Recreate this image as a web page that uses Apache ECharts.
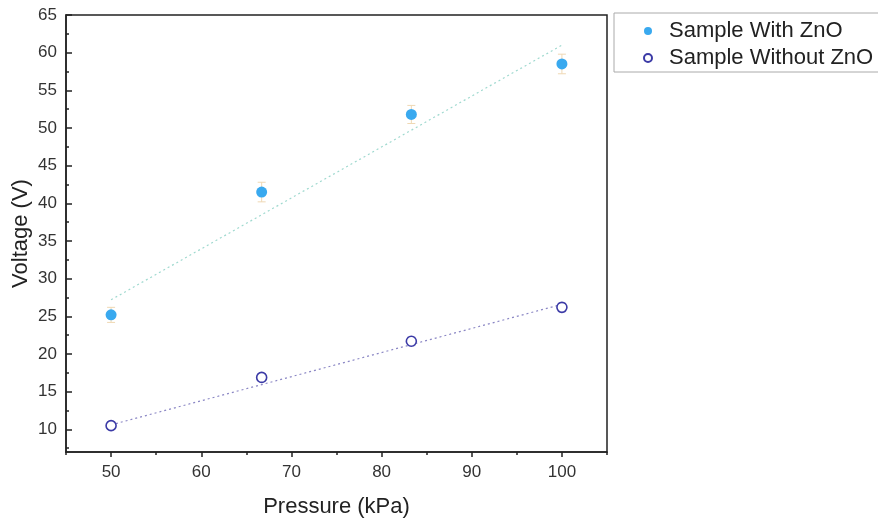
<!DOCTYPE html>
<html>
<head>
<meta charset="utf-8">
<script src="https://cdn.jsdelivr.net/npm/echarts@6/dist/echarts.min.js"></script>
<style>
  html, body { margin: 0; padding: 0; background: #fff; }
  #chart { width: 878px; height: 520px; }
</style>
</head>
<body>
<div id="chart"></div>
<script>
// Measured output voltage against applied pressure
const pressure = [50, 66.7, 83.3, 100];
const voltageWithZnO = [25.2, 41.5, 51.8, 58.5];
const errWithZnO = [1.0, 1.3, 1.2, 1.3];
const voltageWithoutZnO = [10.5, 16.9, 21.7, 26.2];
const errWithoutZnO = [0.5, 0.5, 0.6, 0.6];

// Linear fit end points
const fitWithZnO = [[50, 27.2], [100, 61.0]];
const fitWithoutZnO = [[50, 10.6], [100, 26.6]];

const xTickLabels = [50, 60, 70, 80, 90, 100];
const xMinorTicks = [45, 55, 65, 75, 85, 95, 105];
const yTickLabels = [10, 15, 20, 25, 30, 35, 40, 45, 50, 55, 60, 65];
const yMinorTicks = [7.5, 12.5, 17.5, 22.5, 27.5, 32.5, 37.5, 42.5, 47.5, 52.5, 57.5, 62.5];

const seriesNames = ['Sample With ZnO', 'Sample Without ZnO'];

const FONT = 'Liberation Sans, Arial, sans-serif';
const INK = '#222';
const LABEL = '#333';

function pairs(xs, ys) { return xs.map((x, i) => [x, ys[i]]); }
function errData(xs, ys, es) { return xs.map((x, i) => [x, ys[i] - es[i], ys[i] + es[i]]); }

function errorBarRenderer(color) {
  return function (params, api) {
    const x = api.value(0);
    const lo = api.coord([x, api.value(1)]);
    const hi = api.coord([x, api.value(2)]);
    const w = 4;
    const style = { stroke: color, lineWidth: 1 };
    return {
      type: 'group',
      children: [
        { type: 'line', shape: { x1: lo[0], y1: lo[1], x2: hi[0], y2: hi[1] }, style },
        { type: 'line', shape: { x1: lo[0] - w, y1: lo[1], x2: lo[0] + w, y2: lo[1] }, style },
        { type: 'line', shape: { x1: hi[0] - w, y1: hi[1], x2: hi[0] + w, y2: hi[1] }, style }
      ]
    };
  };
}

const chart = echarts.init(document.getElementById('chart'), null, { renderer: 'canvas' });

const xBase = { type: 'value', min: 45, max: 105, splitLine: { show: false } };
const yBase = { type: 'value', min: 7, max: 65, splitLine: { show: false } };

chart.setOption({
  animation: false,
  backgroundColor: '#fff',
  textStyle: { fontFamily: FONT },
  grid: {
    left: 66, top: 15, right: 271, bottom: 68,
    outerBoundsMode: 'none',
    containLabel: false,
    show: true, borderColor: INK, borderWidth: 1.5, backgroundColor: 'transparent'
  },
  legend: {
    data: seriesNames.map(n => ({ name: n })),
    left: 614, top: 13,
    orient: 'vertical',
    padding: [7, 20, 3, 29],
    itemGap: 5,
    itemWidth: 8, itemHeight: 8,
    borderColor: '#aaa', borderWidth: 1,
    textStyle: { fontFamily: FONT, fontSize: 22, color: INK, padding: [0, 0, 0, 12] }
  },
  xAxis: [
    Object.assign({}, xBase, {
      name: 'Pressure (kPa)',
      nameLocation: 'middle',
      nameGap: 44,
      nameMoveOverlap: false,
      nameTextStyle: { fontFamily: FONT, fontSize: 22, color: INK },
      axisLine: { show: true, lineStyle: { color: INK, width: 1.5 } },
      axisTick: { show: true, inside: false, length: 5, customValues: xTickLabels, lineStyle: { color: INK, width: 1.5 } },
      axisLabel: { customValues: xTickLabels, fontFamily: FONT, fontSize: 17, color: LABEL, margin: 12 }
    }),
    Object.assign({}, xBase, {
      position: 'bottom',
      axisLine: { show: false },
      axisTick: { show: true, inside: false, length: 3, customValues: xMinorTicks, lineStyle: { color: INK, width: 1.5 } },
      axisLabel: { show: false }
    })
  ],
  yAxis: [
    Object.assign({}, yBase, {
      name: 'Voltage (V)',
      nameLocation: 'middle',
      nameGap: 34,
      nameMoveOverlap: false,
      nameTextStyle: { fontFamily: FONT, fontSize: 22, color: INK },
      axisLine: { show: true, lineStyle: { color: INK, width: 1.5 } },
      axisTick: { show: true, inside: true, length: 6, customValues: yTickLabels, lineStyle: { color: INK, width: 1.5 } },
      axisLabel: { customValues: yTickLabels, fontFamily: FONT, fontSize: 17, color: LABEL, margin: 9 }
    }),
    Object.assign({}, yBase, {
      position: 'left',
      axisLine: { show: false },
      axisTick: { show: true, inside: true, length: 3, customValues: yMinorTicks, lineStyle: { color: INK, width: 1.5 } },
      axisLabel: { show: false }
    })
  ],
  series: [
    {
      name: 'fit-with',
      type: 'line',
      data: fitWithZnO,
      symbol: 'none',
      silent: true,
      lineStyle: { color: '#9fd9cf', width: 1.2, type: [2, 3] },
      z: 1
    },
    {
      name: 'fit-without',
      type: 'line',
      data: fitWithoutZnO,
      symbol: 'none',
      silent: true,
      lineStyle: { color: '#8a86c4', width: 1.2, type: [2, 3] },
      z: 1
    },
    {
      name: 'err-with',
      type: 'custom',
      data: errData(pressure, voltageWithZnO, errWithZnO),
      renderItem: errorBarRenderer('#efd8b4'),
      encode: { x: 0, y: [1, 2] },
      silent: true,
      z: 2
    },
    {
      name: 'err-without',
      type: 'custom',
      data: errData(pressure, voltageWithoutZnO, errWithoutZnO),
      renderItem: errorBarRenderer('#d8d6ea'),
      encode: { x: 0, y: [1, 2] },
      silent: true,
      z: 2
    },
    {
      name: seriesNames[0],
      type: 'scatter',
      data: pairs(pressure, voltageWithZnO),
      symbol: 'circle',
      symbolSize: 11,
      itemStyle: { color: '#39a9ef', opacity: 1 },
      z: 3
    },
    {
      name: seriesNames[1],
      type: 'scatter',
      data: pairs(pressure, voltageWithoutZnO),
      symbol: 'circle',
      symbolSize: 10,
      itemStyle: { color: '#ffffff', borderColor: '#3b3aa6', borderWidth: 1.6, opacity: 1 },
      z: 3
    }
  ]
});
</script>
</body>
</html>
